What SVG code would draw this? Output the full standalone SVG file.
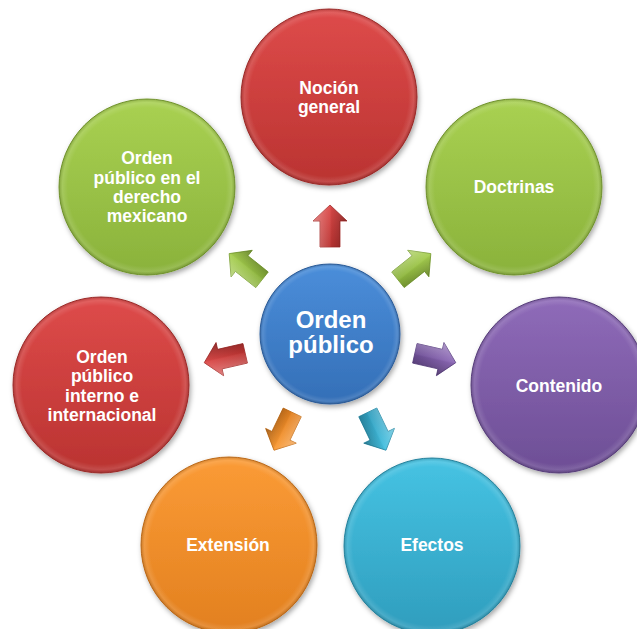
<svg xmlns="http://www.w3.org/2000/svg" width="637" height="629" viewBox="0 0 637 629">
<defs>
<filter id="sh" x="-20%" y="-20%" width="140%" height="140%">
<feDropShadow dx="1.5" dy="2.5" stdDeviation="2.5" flood-color="#000" flood-opacity="0.35"/>
</filter>
<linearGradient id="gRed" x1="0" y1="0" x2="0" y2="1"><stop offset="0" stop-color="#DE4B4A"/><stop offset="1" stop-color="#BA3331"/></linearGradient>
<linearGradient id="gGreen" x1="0" y1="0" x2="0" y2="1"><stop offset="0" stop-color="#A9D152"/><stop offset="1" stop-color="#8AB23B"/></linearGradient>
<linearGradient id="gPurple" x1="0" y1="0" x2="0" y2="1"><stop offset="0" stop-color="#8F6BB9"/><stop offset="1" stop-color="#6D4E95"/></linearGradient>
<linearGradient id="gCyan" x1="0" y1="0" x2="0" y2="1"><stop offset="0" stop-color="#46C3E3"/><stop offset="1" stop-color="#2F9DBD"/></linearGradient>
<linearGradient id="gOrange" x1="0" y1="0" x2="0" y2="1"><stop offset="0" stop-color="#FB9B36"/><stop offset="1" stop-color="#E2801F"/></linearGradient>
<linearGradient id="gBlue" x1="0" y1="0" x2="0" y2="1"><stop offset="0" stop-color="#4B8EDA"/><stop offset="1" stop-color="#346FB7"/></linearGradient>
<radialGradient id="bevel" cx="0.5" cy="0.5" r="0.5">
<stop offset="0.9" stop-color="#fff" stop-opacity="0"/>
<stop offset="0.96" stop-color="#fff" stop-opacity="0.12"/>
<stop offset="1" stop-color="#000" stop-opacity="0.15"/>
</radialGradient>
<linearGradient id="aShade" x1="0" y1="0" x2="1" y2="0">
<stop offset="0" stop-color="#fff" stop-opacity="0.35"/>
<stop offset="0.5" stop-color="#fff" stop-opacity="0.05"/>
<stop offset="0.55" stop-color="#000" stop-opacity="0.05"/>
<stop offset="1" stop-color="#000" stop-opacity="0.3"/>
</linearGradient>
<polygon id="arr" points="0,-21 17,-5 10,-5 10,21 -10,21 -10,-5 -17,-5"/>
</defs>
<style>
.t{font-family:"Liberation Sans",Arial,sans-serif;font-weight:bold;fill:#fff;text-anchor:middle;font-size:17.5px}
.tc{font-size:24px}
.ring{fill:url(#bevel)}
.node circle.b{filter:url(#sh)}
</style>
<rect width="637" height="629" fill="#fff"/>
<g id="connectors">
<g transform="translate(330,226)"><use href="#arr" fill="url(#gRed)" stroke="#A52E2C" stroke-width="0.8"/><use href="#arr" fill="url(#aShade)"/></g>
<g transform="translate(414.4,266.7) rotate(51.43)"><use href="#arr" fill="url(#gGreen)" stroke="#7A9E33" stroke-width="0.8"/><use href="#arr" fill="url(#aShade)"/></g>
<g transform="translate(435.3,358) rotate(102.86)"><use href="#arr" fill="url(#gPurple)" stroke="#5E4383" stroke-width="0.8"/><use href="#arr" fill="url(#aShade)"/></g>
<g transform="translate(376.9,431.3) rotate(154.29)"><use href="#arr" fill="url(#gCyan)" stroke="#2A8CA8" stroke-width="0.8"/><use href="#arr" fill="url(#aShade)"/></g>
<g transform="translate(283.1,431.3) rotate(205.71)"><use href="#arr" fill="url(#gOrange)" stroke="#C8711B" stroke-width="0.8"/><use href="#arr" fill="url(#aShade)"/></g>
<g transform="translate(224.7,358) rotate(257.14)"><use href="#arr" fill="url(#gRed)" stroke="#A52E2C" stroke-width="0.8"/><use href="#arr" fill="url(#aShade)"/></g>
<g transform="translate(245.6,266.7) rotate(308.57)"><use href="#arr" fill="url(#gGreen)" stroke="#7A9E33" stroke-width="0.8"/><use href="#arr" fill="url(#aShade)"/></g>
</g>
<g id="node-center" class="node">
<circle class="b" cx="330" cy="334" r="70" fill="url(#gBlue)" stroke="#2F62A3" stroke-width="1"/>
<circle class="ring" cx="330" cy="334" r="70"/>
<text class="t tc" x="331" y="328">Orden</text>
<text class="t tc" x="331" y="353">público</text>
</g>
<g id="node-nocion" class="node">
<circle class="b" cx="329" cy="97" r="88" fill="url(#gRed)" stroke="#A52E2C" stroke-width="1"/>
<circle class="ring" cx="329" cy="97" r="88"/>
<text class="t" x="329" y="94">Noción</text>
<text class="t" x="329" y="113">general</text>
</g>
<g id="node-doctrinas" class="node">
<circle class="b" cx="514" cy="187" r="88" fill="url(#gGreen)" stroke="#7A9E33" stroke-width="1"/>
<circle class="ring" cx="514" cy="187" r="88"/>
<text class="t" x="514" y="193">Doctrinas</text>
</g>
<g id="node-contenido" class="node">
<circle class="b" cx="559" cy="385" r="88" fill="url(#gPurple)" stroke="#5E4383" stroke-width="1"/>
<circle class="ring" cx="559" cy="385" r="88"/>
<text class="t" x="559" y="392">Contenido</text>
</g>
<g id="node-efectos" class="node">
<circle class="b" cx="432" cy="546" r="88" fill="url(#gCyan)" stroke="#2A8CA8" stroke-width="1"/>
<circle class="ring" cx="432" cy="546" r="88"/>
<text class="t" x="432" y="551">Efectos</text>
</g>
<g id="node-extension" class="node">
<circle class="b" cx="229" cy="545" r="88" fill="url(#gOrange)" stroke="#C8711B" stroke-width="1"/>
<circle class="ring" cx="229" cy="545" r="88"/>
<text class="t" x="228" y="551">Extensión</text>
</g>
<g id="node-interno" class="node">
<circle class="b" cx="101" cy="385" r="88" fill="url(#gRed)" stroke="#A52E2C" stroke-width="1"/>
<circle class="ring" cx="101" cy="385" r="88"/>
<text class="t" x="102" y="363">Orden</text>
<text class="t" x="102" y="382">público</text>
<text class="t" x="102" y="402">interno e</text>
<text class="t" x="102" y="421">internacional</text>
</g>
<g id="node-mexicano" class="node">
<circle class="b" cx="147" cy="187" r="88" fill="url(#gGreen)" stroke="#7A9E33" stroke-width="1"/>
<circle class="ring" cx="147" cy="187" r="88"/>
<text class="t" x="147" y="164">Orden</text>
<text class="t" x="147" y="184">público en el</text>
<text class="t" x="147" y="203">derecho</text>
<text class="t" x="147" y="222">mexicano</text>
</g>
</svg>
